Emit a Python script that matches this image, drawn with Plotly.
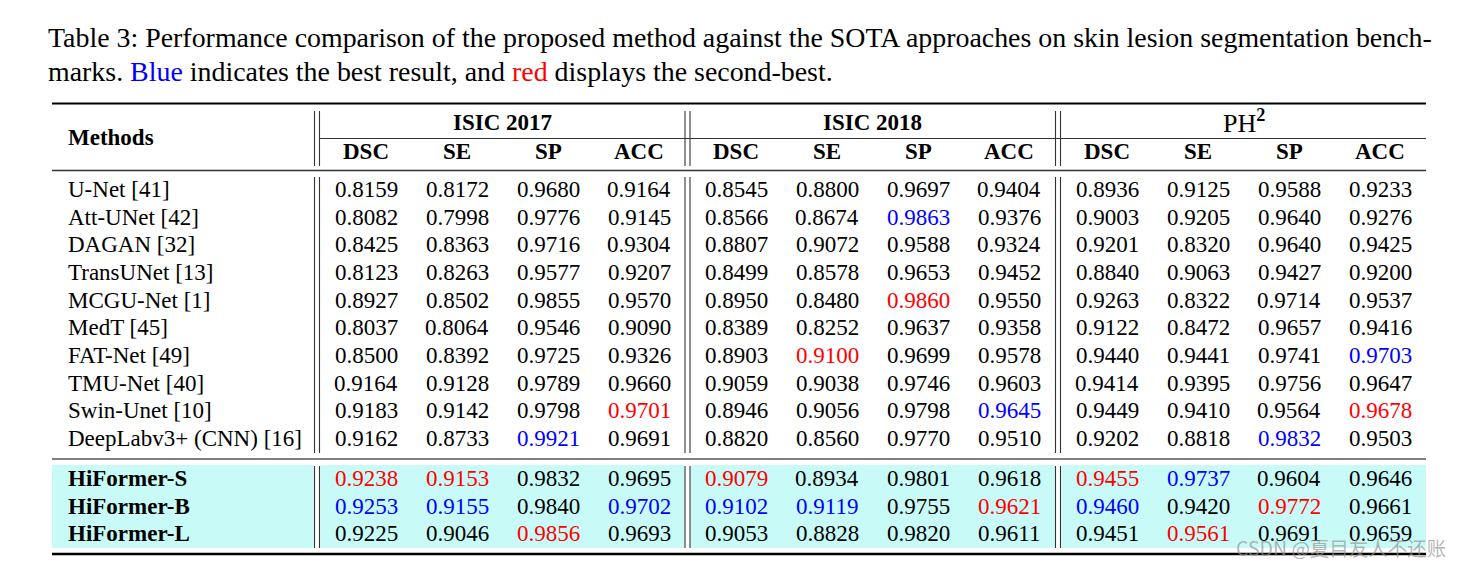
import plotly.graph_objects as go

# ---------------- data ----------------
methods = ["U-Net [41]", "Att-UNet [42]", "DAGAN [32]", "TransUNet [13]", "MCGU-Net [1]",
           "MedT [45]", "FAT-Net [49]", "TMU-Net [40]", "Swin-Unet [10]", "DeepLabv3+ (CNN) [16]"]
ours = ["HiFormer-S", "HiFormer-B", "HiFormer-L"]
datasets = ["ISIC 2017", "ISIC 2018", "PH<sup><b>2</b></sup>"]
metrics = ["DSC", "SE", "SP", "ACC"]

isic2017 = [
    [0.8159, 0.8172, 0.9680, 0.9164],
    [0.8082, 0.7998, 0.9776, 0.9145],
    [0.8425, 0.8363, 0.9716, 0.9304],
    [0.8123, 0.8263, 0.9577, 0.9207],
    [0.8927, 0.8502, 0.9855, 0.9570],
    [0.8037, 0.8064, 0.9546, 0.9090],
    [0.8500, 0.8392, 0.9725, 0.9326],
    [0.9164, 0.9128, 0.9789, 0.9660],
    [0.9183, 0.9142, 0.9798, 0.9701],
    [0.9162, 0.8733, 0.9921, 0.9691],
    [0.9238, 0.9153, 0.9832, 0.9695],
    [0.9253, 0.9155, 0.9840, 0.9702],
    [0.9225, 0.9046, 0.9856, 0.9693],
]
isic2018 = [
    [0.8545, 0.8800, 0.9697, 0.9404],
    [0.8566, 0.8674, 0.9863, 0.9376],
    [0.8807, 0.9072, 0.9588, 0.9324],
    [0.8499, 0.8578, 0.9653, 0.9452],
    [0.8950, 0.8480, 0.9860, 0.9550],
    [0.8389, 0.8252, 0.9637, 0.9358],
    [0.8903, 0.9100, 0.9699, 0.9578],
    [0.9059, 0.9038, 0.9746, 0.9603],
    [0.8946, 0.9056, 0.9798, 0.9645],
    [0.8820, 0.8560, 0.9770, 0.9510],
    [0.9079, 0.8934, 0.9801, 0.9618],
    [0.9102, 0.9119, 0.9755, 0.9621],
    [0.9053, 0.8828, 0.9820, 0.9611],
]
ph2 = [
    [0.8936, 0.9125, 0.9588, 0.9233],
    [0.9003, 0.9205, 0.9640, 0.9276],
    [0.9201, 0.8320, 0.9640, 0.9425],
    [0.8840, 0.9063, 0.9427, 0.9200],
    [0.9263, 0.8322, 0.9714, 0.9537],
    [0.9122, 0.8472, 0.9657, 0.9416],
    [0.9440, 0.9441, 0.9741, 0.9703],
    [0.9414, 0.9395, 0.9756, 0.9647],
    [0.9449, 0.9410, 0.9564, 0.9678],
    [0.9202, 0.8818, 0.9832, 0.9503],
    [0.9455, 0.9737, 0.9604, 0.9646],
    [0.9460, 0.9420, 0.9772, 0.9661],
    [0.9451, 0.9561, 0.9691, 0.9659],
]
caption1 = ("Table 3: Performance comparison of the proposed method against the SOTA "
            "approaches on skin lesion segmentation bench-")
caption2 = ("marks. <span style='color:#0000ff'>Blue</span> indicates the best result, and "
            "<span style='color:#ff0000'>red</span> displays the second-best.")
watermark = "CSDN @夏目友人不还账"

# ---------------- layout constants ----------------
W, H = 1463, 567
OFF = 8                      # page body margin
FW, FH = W - 2 * OFF, H - 2 * OFF
FONT = "Liberation Serif, Times New Roman, serif"
BLUE, RED = "#0000ff", "#ff0000"
X_L, X_R = 52, 1426
X_NAME = 66
GROUP_LEFT = [320, 690, 1061]
GROUP_RIGHT = [685, 1055.5, 1426]
COL_STEP = 91
VLINES = [314.5, 319.5, 685, 690, 1055.5, 1060.5]
ROW0, ROW_STEP = 189.5, 27.65
OUR0, OUR_STEP = 478.5, 27.5
Y_TOP, Y_CMID, Y_MID, Y_SEP, Y_BOT = 103.5, 138.5, 170.5, 459, 554
CY0, CY1 = 465, 548
FS = 23
CAP_FS = 27.9

all_tables = [isic2017, isic2018, ph2]
n_rows = len(isic2017)

# rank-based colours (best blue, second red) per column
colors = [[["black"] * 4 for _ in range(n_rows)] for _ in range(3)]
for g, tab in enumerate(all_tables):
    for m in range(4):
        vals = sorted({row[m] for row in tab}, reverse=True)
        for r, row in enumerate(tab):
            if row[m] == vals[0]:
                colors[g][r][m] = BLUE
            elif row[m] == vals[1]:
                colors[g][r][m] = RED

fig = go.Figure()
shapes = []
ann = []

def hline(y, x0, x1, w, c="black"):
    shapes.append(dict(type="line", x0=x0, x1=x1, y0=y, y1=y, xref="x", yref="y",
                       line=dict(color=c, width=w)))

# cyan highlight
cyan_spans = [(X_L, 313.5)] + [(GROUP_LEFT[i] + 0.5, GROUP_RIGHT[i] - (0.5 if i < 2 else 0)) for i in range(3)]
for a, b in cyan_spans:
    shapes.append(dict(type="rect", x0=a, x1=b, y0=CY0, y1=CY1, xref="x", yref="y",
                       fillcolor="#c8fbf8", line=dict(width=0), layer="below"))

hline(Y_TOP, X_L, X_R, 2.2)
hline(Y_CMID, GROUP_LEFT[0], X_R, 1.2, "#333")
hline(Y_MID, X_L, X_R, 1.3, "#333")
hline(Y_SEP, X_L, X_R, 1.6, "#555")
hline(Y_BOT, X_L, X_R, 2.6)

for x in VLINES:
    for y0, y1 in [(111, 166), (177, 453), (466, 548)]:
        shapes.append(dict(type="line", x0=x, x1=x, y0=y0, y1=y1, xref="x", yref="y",
                           line=dict(color="#333", width=1.1)))

def text(x, y, s, size=FS, color="black", anchor="center", bold=False):
    if bold:
        s = "<b>" + s + "</b>"
    ann.append(dict(x=x, y=y, xref="x", yref="y", text=s, showarrow=False,
                    xanchor=anchor, yanchor="middle",
                    font=dict(family=FONT, size=size, color=color)))

# caption
text(46, 37, caption1, size=CAP_FS, anchor="left")
text(46, 71, caption2, size=CAP_FS, anchor="left")

# headers
text(X_NAME, 137, "Methods", anchor="left", bold=True)
for g in range(3):
    cx = (GROUP_LEFT[g] + GROUP_RIGHT[g]) / 2
    if g == 2:
        text(cx, 121, datasets[g], size=26)
    else:
        text(cx, 122, datasets[g], bold=True)
    for m in range(4):
        text(GROUP_LEFT[g] + 46 + m * COL_STEP, 151, metrics[m], bold=True)

# rows
names = methods + ours
for r in range(n_rows):
    if r < len(methods):
        y = ROW0 + r * ROW_STEP
    else:
        y = OUR0 + (r - len(methods)) * OUR_STEP
    text(X_NAME, y, names[r], anchor="left", bold=(r >= len(methods)))
    for g, tab in enumerate(all_tables):
        for m in range(4):
            text(GROUP_LEFT[g] + 46 + m * COL_STEP, y, f"{tab[r][m]:.4f}",
                 color=colors[g][r][m])

# watermark
ann.append(dict(x=1447, y=547, xref="x", yref="y", text=watermark, showarrow=False,
                xanchor="right", yanchor="middle", borderpad=0,
                font=dict(family="Noto Sans CJK SC", size=19.5, color="rgba(150,150,150,0.7)")))

fig.update_layout(
    width=FW, height=FH, margin=dict(l=0, r=0, t=0, b=0),
    paper_bgcolor="white", plot_bgcolor="white",
    xaxis=dict(range=[OFF, OFF + FW], visible=False, fixedrange=True),
    yaxis=dict(range=[OFF + FH, OFF], visible=False, fixedrange=True),
    shapes=shapes, annotations=ann, showlegend=False,
)
fig.write_html("out.html")
